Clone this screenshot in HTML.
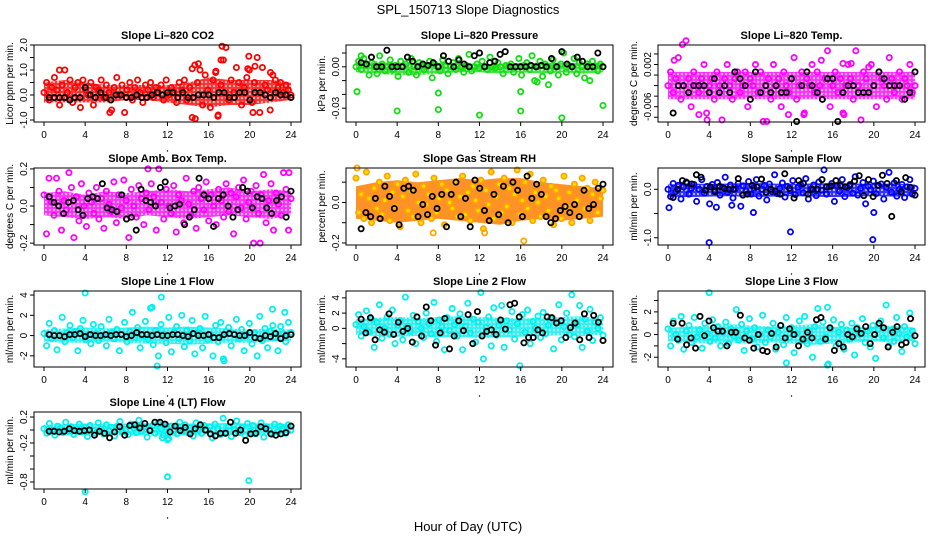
<!DOCTYPE html>
<html><head><meta charset="utf-8">
<style>
html,body{margin:0;padding:0;background:#fff;}
svg{display:block;font-family:"Liberation Sans",sans-serif;}
</style></head>
<body>
<svg id="chart" width="936" height="540" viewBox="0 0 936 540" xmlns="http://www.w3.org/2000/svg">
<defs>
<pattern id="speck" width="4" height="4" patternUnits="userSpaceOnUse"><rect width="4" height="4" fill="#fff" fill-opacity="0"/><circle cx="2" cy="2" r="1.1" fill="#fff"/></pattern>
</defs>
<rect width="936" height="540" fill="#fff"/>
<text x="468" y="14" font-size="13" text-anchor="middle">SPL_150713  Slope Diagnostics</text>
<text x="468" y="531" font-size="13" text-anchor="middle">Hour of Day (UTC)</text>
</svg>
<script>
const xTicks=[0,4,8,12,16,20,24];
const bandHours=[0,2,4,6,8,10,12,14,16,18,20,22,24];
// Panel 1 CO2
const co2Main=[0.1,0.5,-0.2,0.3,0.7,0.2,-0.4,0.4,1.0,0.1,0.6,-0.3,0.3,0.5,-0.5,0.6,0.2,0.0,0.5,-0.4,0.3,0.2,0.6,-0.1,0.4,0.1,-0.6,0.3,0.7,0.0,0.4,-0.7,0.2,0.5,-0.2,0.3,0.6,0.1,-0.3,0.4,0.2,0.5,-0.1,0.3,0.1,0.4,-0.2,0.6,0.0,0.3,0.1,-0.3,0.5,0.2,0.6,-0.2,0.3,-0.9,1.2,0.5,1.0,-0.4,0.8,0.2,-0.5,0.6,0.9,-0.8,0.4,1.4,1.9,-0.2,0.6,0.1,1.1,0.5,-0.4,0.3,0.7,1.0,-0.3,0.5,1.5,-0.7,1.1,0.4,0.2,-0.6,0.8,0.6,0.3,0.5,0.1,0.4,0.2,0.0];
const co2OutHours=[14.7,15.0,17.2,17.3,16.9,19.9,20.5,20.3,6.4,1.5,16.7,19.8,22.0,14.4];
const co2OutVals=[-0.95,1.25,1.4,1.95,-0.85,1.55,1.15,-0.7,-0.7,1.0,0.95,1.05,0.9,1.05];
const co2BandLow=[-0.3,-0.3,-0.3,-0.3,-0.2,-0.2,-0.3,-0.4,-0.5,-0.4,-0.4,-0.3,-0.2];
const co2BandHigh=[0.5,0.6,0.5,0.4,0.4,0.4,0.4,0.5,0.7,0.6,0.6,0.6,0.5];
const co2Black=[-0.1,-0.1,-0.1,-0.1,-0.2,-0.1,-0.1,0.3,0.0,-0.1,0.1,-0.1,-0.2,0.0,0.0,-0.1,-0.1,0.0,-0.1,-0.1,0.0,0.1,0.0,0.1,0.1,-0.1,0.1,-0.1,-0.1,0.0,0.0,0.0,-0.1,0.1,0.1,-0.1,-0.1,0.1,0.1,-0.2,0.1,0.1,0.0,-0.1,0.1,0.0,0.0,-0.1];
// Panel 2 Pressure
const presMain=[0.000,0.004,-0.002,0.006,0.001,-0.006,0.003,0.000,-0.005,0.008,0.002,-0.003,0.000,0.005,-0.002,0.001,-0.007,0.004,0.000,0.002,-0.004,0.006,0.000,-0.006,0.003,0.001,-0.002,0.000,0.004,-0.008,0.002,0.000,-0.003,0.005,0.001,-0.005,0.000,0.003,-0.002,0.006,0.000,-0.004,0.001,0.009,-0.003,0.000,0.002,-0.001,0.004,0.000,-0.002,0.007,0.000,-0.001,0.003,0.000,-0.005,0.001,0.000,0.002,-0.004,0.000,0.006,-0.006,0.001,0.003,-0.002,0.008,-0.010,0.000,0.004,-0.007,0.002,0.000,-0.003,0.005,0.000,-0.006,0.002,0.010,-0.004,0.001,0.000,0.006,-0.005,0.003,0.000,-0.008,0.002,-0.010,0.004,0.000,-0.003,0.002,0.000];
const presOutHours=[0.1,4.0,8.0,8.0,12.0,16.0,16.0,20.0,24.0,18.7,17.6,0.5];
const presOutVals=[-0.018,-0.032,-0.031,-0.019,-0.035,-0.032,-0.018,-0.037,-0.028,-0.013,-0.011,0.008];
const presBandLow=[-0.004,-0.005,-0.006,-0.006,-0.005,-0.004,-0.004,-0.005,-0.004,-0.005,-0.004,-0.005,-0.004];
const presBandHigh=[0.003,0.004,0.003,0.003,0.003,0.003,0.002,0.002,0.003,0.003,0.003,0.003,0.003];
const presBlack=[0.003,0.002,0.007,0.000,0.000,0.012,0.000,0.000,0.000,0.007,0.004,0.000,0.002,0.001,0.003,0.000,0.008,0.004,0.000,0.005,0.002,0.000,0.008,0.010,0.000,0.003,0.004,0.009,0.011,0.000,0.000,0.000,0.000,0.001,0.000,0.001,0.000,0.006,0.000,0.011,0.002,0.000,0.007,0.004,0.000,0.000,0.010,0.000];
// Panel 3 Li-820 Temp
const tempMain=[-0.002,0.0006,-0.0033,-0.0007,0.0033,-0.0046,-0.002,0.0065,-0.0007,-0.006,0.0006,-0.002,-0.0033,-0.0007,0.002,-0.0072,-0.002,-0.0007,-0.0046,0.0006,-0.002,-0.0085,-0.0007,0.002,-0.002,-0.0046,-0.0007,0.0006,-0.0033,-0.002,0.0006,-0.006,-0.0007,-0.002,0.002,-0.0033,0.0006,-0.0088,-0.002,-0.0007,-0.0046,0.002,-0.002,-0.0007,-0.006,0.0006,-0.002,-0.0033,-0.0007,0.0033,-0.0046,-0.002,0.0006,-0.0072,-0.0007,-0.002,0.002,-0.0033,0.0006,-0.002,-0.0046,-0.0007,0.0046,-0.006,-0.002,0.0006,-0.0033,-0.0007,-0.0072,-0.002,0.002,-0.0007,-0.0046,0.0046,-0.002,-0.0085,0.0006,-0.0007,-0.0033,0.002,-0.002,-0.006,0.0006,-0.0007,-0.002,-0.0046,0.0033,-0.0007,-0.0033,-0.002,0.0006,-0.0046,-0.0007,-0.002,0.002,-0.0033,-0.002];
const tempOutHours=[1.4,0.6,3.0,3.8,9.6,13.2,14.9,17.8,17.0,17.1,19.5,11.7];
const tempOutVals=[0.0058,0.0028,-0.0075,-0.0085,-0.0088,-0.0075,0.0028,0.0022,0.0022,-0.0075,0.0015,-0.0075];
const tempBandLow=[-0.0046,-0.0046,-0.0046,-0.0046,-0.0046,-0.0046,-0.0046,-0.0046,-0.0046,-0.0046,-0.0046,-0.0046,-0.0046];
const tempBandHigh=[0.0006,0.0006,0.0006,0.0006,0.0006,0.0006,0.0006,0.0006,0.0006,0.0006,0.0006,0.0006,0.0006];
const tempBlack=[-0.0072,-0.002,-0.002,-0.0033,-0.002,-0.002,-0.002,-0.0033,-0.0007,-0.0033,-0.002,-0.0033,0.0006,-0.0007,-0.002,-0.0046,0.0006,-0.0033,-0.002,-0.0033,-0.002,-0.0033,-0.0033,-0.0007,-0.0088,-0.002,0.0006,-0.002,-0.0033,-0.0046,-0.0007,-0.0007,-0.0088,-0.0033,-0.002,-0.002,-0.0033,-0.0033,-0.0033,-0.002,0.0006,-0.0007,-0.002,-0.002,-0.002,-0.0046,-0.0033,0.0006];
// Panel 4 Amb Box Temp
const ambMain=[0.06,-0.15,0.15,0.02,-0.05,0.15,0.08,-0.13,0.03,-0.02,0.18,0.10,-0.17,0.05,-0.08,0.12,0.00,-0.11,0.07,0.02,-0.04,0.10,-0.07,0.04,-0.12,0.08,0.01,-0.03,0.13,-0.09,0.06,-0.01,0.14,0.03,-0.17,0.09,0.00,-0.06,0.11,0.04,-0.10,0.07,-0.02,0.12,0.05,-0.13,0.20,0.02,-0.07,0.09,0.00,-0.04,0.11,-0.14,0.06,0.03,-0.09,0.15,0.01,-0.05,0.08,-0.12,0.10,0.04,-0.02,0.13,-0.08,0.06,0.00,-0.10,0.09,0.03,-0.06,0.12,-0.03,0.07,-0.15,0.05,0.10,-0.01,0.14,-0.07,0.02,0.08,-0.20,0.11,-0.04,0.06,0.17,-0.09,0.03,0.12,-0.13,0.07,0.01,-0.05,0.18,0.09,-0.13,0.04];
const ambOutHours=[10.1,21.0,23.8];
const ambOutVals=[0.2,-0.2,0.18];
const ambBandLow=[-0.05,-0.06,-0.07,-0.06,-0.07,-0.05,-0.06,-0.07,-0.06,-0.05,-0.06,-0.07,-0.05];
const ambBandHigh=[0.07,0.08,0.06,0.08,0.07,0.08,0.09,0.08,0.09,0.10,0.08,0.09,0.08];
const ambBlack=[0.05,0.02,0.00,-0.04,0.02,0.03,-0.02,-0.05,0.04,0.05,0.04,0.12,-0.01,-0.02,-0.03,0.06,-0.07,-0.06,-0.13,0.09,0.03,0.02,0.00,0.10,0.13,-0.01,0.00,0.01,-0.10,-0.06,-0.02,0.15,0.06,0.04,-0.11,0.04,0.06,0.00,-0.06,-0.02,0.10,0.08,-0.01,0.05,0.04,-0.01,-0.04,0.03,0.05,-0.06,0.08];
// Panel 5 RH
const rhMain=[0.12,-0.05,0.04,-0.08,0.15,0.02,-0.10,0.07,-0.03,0.10,-0.06,0.01,0.13,-0.09,0.05,-0.02,0.09,-0.12,0.03,0.11,-0.04,0.06,-0.07,0.14,0.00,-0.10,0.08,-0.01,0.04,-0.08,0.12,-0.05,0.02,0.09,-0.11,0.06,0.00,-0.03,0.10,-0.07,0.03,0.13,-0.06,0.05,-0.09,0.08,0.01,-0.04,0.11,-0.13,0.06,-0.01,0.15,-0.08,0.03,0.09,-0.05,0.12,-0.02,0.07,-0.10,0.04,0.16,-0.06,0.01,0.10,-0.03,0.14,-0.09,0.05,0.00,-0.07,0.11,0.03,-0.04,0.08,-0.11,0.06,0.02,-0.08,0.13,-0.02,0.05,-0.10,0.09,0.01,-0.06,0.12,-0.03,0.07,-0.09,0.04,0.10,-0.05,0.02,0.06];
const rhOutHours=[7.5,12.5,16.3,0.1];
const rhOutVals=[-0.15,-0.15,-0.19,0.17];
const rhBandLow=[-0.08,-0.09,-0.10,-0.09,-0.08,-0.09,-0.10,-0.11,-0.09,-0.08,-0.09,-0.08,-0.07];
const rhBandHigh=[0.08,0.10,0.11,0.10,0.11,0.12,0.11,0.12,0.12,0.10,0.09,0.08,0.07];
const rhBlack=[-0.13,-0.05,-0.07,0.02,-0.08,0.08,0.03,-0.03,-0.11,0.07,0.08,0.06,-0.07,-0.01,-0.06,0.03,-0.03,0.04,-0.12,0.04,0.10,-0.07,0.02,-0.12,0.11,0.07,-0.04,-0.09,0.04,-0.06,0.08,-0.10,0.10,0.06,-0.07,0.13,0.02,0.09,0.04,-0.07,-0.10,-0.08,-0.04,-0.02,-0.05,-0.01,-0.07,0.06,-0.03,-0.01,0.07,0.09];
// Panel 6 Sample Flow
const sfMain=[0.0,-0.15,0.12,-0.05,0.08,-0.2,0.05,0.15,-0.1,0.02,0.1,-0.25,0.0,0.2,-0.08,0.06,-0.3,0.1,-0.02,0.14,-0.12,0.04,0.25,-0.06,0.09,-0.18,0.01,0.12,-0.35,0.07,-0.04,0.16,-0.1,0.03,0.2,-0.14,0.0,0.08,-0.22,0.11,-0.05,0.3,-0.09,0.02,0.13,-0.16,0.06,-0.03,0.18,-0.11,0.04,0.1,-0.07,0.22,-0.2,0.01,0.09,-0.13,0.15,-0.02,0.4,-0.1,0.05,0.12,-0.25,0.07,-0.04,0.2,-0.15,0.03,0.1,-0.08,0.26,-0.12,0.02,0.14,-0.3,0.06,-0.01,0.17,-0.09,0.08,0.11,-0.2,0.04,0.35,-0.06,0.13,-0.14,0.0,0.1,-0.17,0.05,0.2,-0.1,0.02];
const sfOutHours=[0.1,4.0,4.7,8.3,11.9,19.9,20.0,6.2];
const sfOutVals=[-0.38,-1.1,-0.37,-0.48,-0.88,-1.04,-0.48,-0.33];
const sfBandLow=[-0.15,-0.16,-0.15,-0.14,-0.16,-0.15,-0.14,-0.15,-0.16,-0.15,-0.14,-0.15,-0.14];
const sfBandHigh=[0.1,0.12,0.11,0.12,0.13,0.12,0.11,0.12,0.13,0.12,0.11,0.12,0.1];
const sfBlack=[-0.17,0.0,0.18,0.13,0.11,0.3,0.25,-0.02,0.05,-0.05,0.06,0.02,0.0,0.0,0.22,-0.12,-0.1,0.08,0.05,0.21,-0.06,0.0,-0.04,-0.1,0.32,0.02,-0.18,0.18,0.12,-0.1,0.0,0.0,0.2,0.05,0.07,0.18,0.08,0.05,0.08,0.17,0.28,-0.13,0.2,-0.15,0.08,0.29,0.12,-0.56,0.18,-0.05,0.24,0.04,-0.12];
// Panel 7 Line 1
const l1Main=[0.2,-1.0,1.2,-0.3,0.5,-1.4,0.0,1.8,-0.6,0.3,1.0,-0.2,0.4,-1.5,0.7,1.5,-0.4,0.1,-0.8,1.1,0.2,-0.5,0.9,0.0,-1.0,1.6,0.3,-0.3,0.6,-1.5,0.1,1.3,-0.6,0.4,2.3,-0.2,0.8,-1.2,0.0,1.4,-0.4,2.7,-0.9,0.5,-2.0,1.1,0.2,-0.7,1.8,-1.6,0.3,0.9,-0.3,2.0,-1.1,0.5,-0.5,1.5,-1.8,0.2,0.7,-1.2,1.9,-0.4,0.1,-2.0,1.0,-0.6,1.3,-2.3,0.4,0.8,-1.0,0.2,1.6,-0.3,0.6,-1.5,0.0,1.2,-0.8,0.3,-2.0,1.9,-0.5,0.7,-1.2,0.4,1.0,-0.2,-1.5,0.9,0.2,-0.6,1.3,0.3];
const l1OutHours=[4.0,11.4,11.0,22.2,23.4,10.5,17.5];
const l1OutVals=[4.2,3.8,-3.0,2.6,2.3,2.8,-2.5];
const l1BandLow=[-0.6,-0.7,-0.7,-0.6,-0.7,-0.8,-0.8,-0.9,-0.8,-0.7,-0.7,-0.6,-0.5];
const l1BandHigh=[0.6,0.7,0.8,0.7,0.8,0.9,0.8,0.9,0.8,0.7,0.6,0.7,0.6];
const l1Black=[0.1,0.0,0.0,-0.1,0.1,0.1,0.2,-0.1,0.1,0.0,0.0,0.1,0.0,0.1,0.1,-0.1,0.0,0.3,0.1,0.1,0.0,0.1,0.0,0.0,0.1,0.1,0.0,-0.1,0.2,0.0,0.0,0.1,-0.2,-0.2,0.1,0.2,0.1,0.0,0.0,0.3,-0.2,-0.3,0.0,-0.1,0.2,-0.3,0.0,0.1];
// Panel 8 Line 2
const l2Main=[0.5,1.8,-1.0,0.2,2.3,-0.5,1.2,-2.5,0.8,3.1,-1.3,0.0,1.5,-0.8,2.4,-2.0,0.4,1.0,-1.5,4.1,0.3,-0.4,1.7,-2.0,0.9,0.0,-1.2,2.0,0.6,-0.7,3.4,-1.7,1.1,0.2,-2.8,1.4,-0.3,2.6,0.5,-1.0,1.9,-2.8,0.3,3.3,-0.6,1.2,-1.8,0.8,4.7,-4.0,0.1,1.5,-2.3,2.7,-0.9,0.4,3.0,-2.5,1.0,-0.2,2.2,-1.4,0.6,-4.9,1.8,-0.5,2.4,-2.0,0.9,0.0,1.6,-1.2,2.1,-0.7,0.4,1.3,-2.7,0.7,3.1,-1.5,0.2,2.0,-0.8,4.4,-1.1,0.5,3.0,-2.5,1.2,-0.4,2.5,-1.6,0.8,0.0,1.4,-0.9];
const l2OutHours=[];
const l2OutVals=[];
const l2BandLow=[-0.8,-1.0,-1.1,-1.0,-1.2,-1.1,-1.3,-1.2,-1.1,-1.0,-0.9,-1.0,-0.8];
const l2BandHigh=[1.2,1.4,1.5,1.3,1.5,1.6,1.5,1.4,1.3,1.4,1.5,1.6,1.2];
const l2Black=[1.2,-0.6,1.4,-1.5,-0.2,-0.5,1.9,-0.8,0.8,-0.4,0.0,-1.8,1.5,-1.0,2.8,1.0,-2.2,-0.6,1.3,-2.7,-1.0,1.0,-0.3,1.8,-2.0,2.2,-1.0,-0.4,-0.2,-0.8,1.1,-0.1,3.1,3.3,1.5,-1.9,-1.2,-1.2,-0.2,-0.6,1.5,1.4,0.7,1.0,-1.2,0.1,0.7,-1.5,1.9,-1.2,1.7,0.8,-1.6];
// Panel 9 Line 3
const l3Main=[0.5,-1.0,1.2,0.0,-0.5,1.6,-1.3,0.3,0.8,-0.7,1.5,-0.2,0.4,-1.2,1.0,0.1,-0.6,1.3,-0.3,0.7,-1.0,0.2,1.1,-0.8,0.5,-0.1,2.2,-0.5,0.9,-1.4,0.3,1.4,-0.4,0.6,-1.1,0.0,1.7,-0.7,0.4,-0.2,1.0,-1.3,0.2,0.8,-0.9,1.5,-0.3,0.6,-1.6,0.1,1.2,-0.5,1.6,-0.8,0.3,-2.0,0.7,2.3,-0.6,1.1,-0.2,-2.6,0.5,1.3,-1.0,0.2,0.9,-1.3,0.4,-0.4,1.0,-1.8,0.6,0.0,1.4,-0.7,0.3,-1.1,0.8,-2.1,0.5,1.2,-0.3,2.6,-1.0,0.4,-0.6,1.5,0.1,-1.5,0.7,-0.2,1.9,0.3,-0.8];
const l3OutHours=[4.0,11.5,15.5,15.5];
const l3OutVals=[3.7,-2.5,2.4,-2.7];
const l3BandLow=[-0.6,-0.7,-0.8,-0.7,-0.8,-0.7,-0.8,-0.9,-0.8,-0.7,-0.6,-0.7,-0.6];
const l3BandHigh=[0.6,0.7,0.8,0.9,0.8,0.7,0.8,0.9,0.7,0.6,0.7,0.8,0.6];
const l3Black=[1.0,-0.4,1.0,-0.9,-0.3,-1.2,1.6,-0.1,1.2,0.6,0.3,0.3,-1.0,0.2,0.2,1.7,-0.3,-0.5,-1.2,0.0,-1.4,-1.5,0.1,-1.1,0.8,-0.3,0.5,0.0,-1.0,-0.4,0.2,-0.3,1.3,1.5,-0.4,0.6,-1.4,-0.8,-1.1,0.0,-0.2,0.5,0.1,0.7,-0.8,0.0,1.0,0.6,-1.1,0.2,0.7,-0.9,-0.7,1.4,-0.1];
// Panel 10 Line 4
const l4Main=[0.02,-0.05,0.10,0.00,-0.08,0.06,0.03,-0.04,0.12,-0.02,0.05,-0.07,0.01,0.09,-0.03,0.04,-0.10,0.07,0.00,-0.05,0.11,0.02,-0.06,0.08,-0.01,0.04,-0.09,0.06,0.13,-0.03,0.01,-0.07,0.09,0.03,-0.04,0.15,-0.02,0.05,-0.11,0.00,0.07,-0.05,0.10,0.02,-0.08,0.04,-0.13,0.06,0.01,-0.06,0.12,-0.02,0.08,-0.04,0.03,-0.09,0.11,0.00,-0.05,0.07,-0.01,0.05,-0.12,0.09,0.02,-0.07,0.18,-0.03,0.06,-0.10,0.01,0.14,-0.04,0.04,-0.08,0.10,-0.02,0.07,-0.06,0.03,0.11,-0.11,0.05,0.00,-0.07,0.09,-0.03,0.06,0.02,-0.05,0.08,0.00];
const l4OutHours=[4.0,12.0,19.9,12.0,11.5];
const l4OutVals=[-0.95,-0.72,-0.78,-0.15,-0.12];
const l4BandLow=[-0.07,-0.08,-0.08,-0.07,-0.08,-0.08,-0.09,-0.08,-0.08,-0.07,-0.08,-0.08,-0.07];
const l4BandHigh=[0.08,0.09,0.10,0.09,0.10,0.10,0.11,0.10,0.10,0.11,0.10,0.10,0.09];
const l4Black=[-0.02,-0.02,-0.03,-0.02,0.02,-0.01,-0.02,-0.01,0.0,-0.08,-0.02,-0.05,-0.12,-0.03,0.05,-0.08,0.07,0.08,0.03,0.10,-0.01,0.12,0.12,0.09,-0.03,0.06,-0.01,0.04,-0.06,0.02,0.08,0.0,-0.06,-0.09,-0.05,-0.05,0.12,-0.05,0.0,-0.16,-0.06,-0.05,0.05,0.02,-0.06,-0.08,-0.06,-0.04,0.06];

const NS="http://www.w3.org/2000/svg";
const svg=document.getElementById('chart');
function mk(tag,attrs,parent){const e=document.createElementNS(NS,tag);for(const k in attrs)e.setAttribute(k,attrs[k]);(parent||svg).appendChild(e);return e;}
const rows=[[45,122],[168,245],[291,367],[412,489]];
const panels=[
 {slug:'co2',title:'Slope Li\u2013820 CO2',ylab:'Licor ppm per min.',col:0,row:0,ymin:-1.08,ymax:2.0,ticks:[-1,-0.5,0,0.5,1,1.5,2],labels:['-1.0','0.0','1.0','2.0'],lv:[-1,0,1,2],color:'#ff0000',main:co2Main,oh:co2OutHours,ov:co2OutVals,bl:co2BandLow,bh:co2BandHigh,black:co2Black},
 {slug:'pressure',title:'Slope Li\u2013820 Pressure',ylab:'kPa per min.',col:1,row:0,ymin:-0.040,ymax:0.0158,ticks:[-0.03,-0.02,-0.01,0,0.01],labels:['-0.03','0.00'],lv:[-0.03,0],color:'#11dd11',main:presMain,oh:presOutHours,ov:presOutVals,bl:presBandLow,bh:presBandHigh,black:presBlack},
 {slug:'li820-temp',title:'Slope Li\u2013820 Temp.',ylab:'degrees C per min.',col:2,row:0,ymin:-0.0089,ymax:0.0057,ticks:[-0.008,-0.006,-0.004,-0.002,0,0.002,0.004],labels:['-0.006','0.002'],lv:[-0.006,0.002],color:'#ff00ff',main:tempMain,oh:tempOutHours,ov:tempOutVals,bl:tempBandLow,bh:tempBandHigh,black:tempBlack},
 {slug:'amb-box-temp',title:'Slope Amb. Box Temp.',ylab:'degrees C per min.',col:0,row:1,ymin:-0.21,ymax:0.205,ticks:[-0.2,-0.1,0,0.1,0.2],labels:['-0.2','0.0','0.2'],lv:[-0.2,0,0.2],color:'#ff00ff',main:ambMain,oh:ambOutHours,ov:ambOutVals,bl:ambBandLow,bh:ambBandHigh,black:ambBlack},
 {slug:'gas-stream-rh',title:'Slope Gas Stream RH',ylab:'percent per min.',col:1,row:1,ymin:-0.21,ymax:0.17,ticks:[-0.2,-0.1,0,0.1],labels:['-0.2','0.0'],lv:[-0.2,0],color:'#ffa500',main:rhMain,oh:rhOutHours,ov:rhOutVals,bl:rhBandLow,bh:rhBandHigh,black:rhBlack,rh:true},
 {slug:'sample-flow',title:'Slope Sample Flow',ylab:'ml/min per min.',col:2,row:1,ymin:-1.15,ymax:0.44,ticks:[-1,-0.5,0],labels:['-1.0','0.0'],lv:[-1,0],color:'#0000ff',main:sfMain,oh:sfOutHours,ov:sfOutVals,bl:sfBandLow,bh:sfBandHigh,black:sfBlack},
 {slug:'line1-flow',title:'Slope Line 1 Flow',ylab:'ml/min per min.',col:0,row:2,ymin:-3.1,ymax:4.4,ticks:[-2,0,2,4],labels:['-2','0','2','4'],lv:[-2,0,2,4],color:'#00f0f0',main:l1Main,oh:l1OutHours,ov:l1OutVals,bl:l1BandLow,bh:l1BandHigh,black:l1Black},
 {slug:'line2-flow',title:'Slope Line 2 Flow',ylab:'ml/min per min.',col:1,row:2,ymin:-5.07,ymax:4.9,ticks:[-4,-2,0,2,4],labels:['-4','0','2','4'],lv:[-4,0,2,4],color:'#00f0f0',main:l2Main,oh:l2OutHours,ov:l2OutVals,bl:l2BandLow,bh:l2BandHigh,black:l2Black},
 {slug:'line3-flow',title:'Slope Line 3 Flow',ylab:'ml/min per min.',col:2,row:2,ymin:-2.86,ymax:3.84,ticks:[-2,-1,0,1,2,3],labels:['-2','0','2'],lv:[-2,0,2],color:'#00f0f0',main:l3Main,oh:l3OutHours,ov:l3OutVals,bl:l3BandLow,bh:l3BandHigh,black:l3Black},
 {slug:'line4-flow',title:'Slope Line 4 (LT) Flow',ylab:'ml/min per min.',col:0,row:3,ymin:-0.908,ymax:0.277,ticks:[-0.8,-0.6,-0.4,-0.2,0,0.2],labels:['-0.8','-0.2','0.2'],lv:[-0.8,-0.2,0.2],color:'#00f0f0',main:l4Main,oh:l4OutHours,ov:l4OutVals,bl:l4BandLow,bh:l4BandHigh,black:l4Black}
];
panels.forEach(p=>{
  const cx=p.col*312, top=rows[p.row][0], bot=rows[p.row][1];
  const L=cx+34, R=cx+301;
  const xs=h=>cx+44+h*(247/24);
  const ys=v=>bot-(v-p.ymin)/(p.ymax-p.ymin)*(bot-top);
  const g=mk('g',{});
  
  
  const t=mk('text',{x:(L+R)/2,y:top-6,'font-size':11,'font-weight':'bold','text-anchor':'middle'},g);
  
  
  t.textContent=p.title;
  const yl=mk('text',{x:0,y:0,'font-size':10,'text-anchor':'middle',transform:`translate(${cx+13},${(top+bot)/2}) rotate(-90)`},g);
  
  
  yl.textContent=p.ylab;
  // dense core band (speckled, like overlapping hollow circles)
  let d='';
  bandHours.forEach((h,i)=>{d+=(i?'L':'M')+xs(h).toFixed(1)+','+ys(p.bh[i]).toFixed(1);});
  for(let i=bandHours.length-1;i>=0;i--){d+='L'+xs(bandHours[i]).toFixed(1)+','+ys(p.bl[i]).toFixed(1);}
  const band=mk('path',{d:d+'Z',fill:p.color,'fill-opacity':0.8,stroke:'none'},g);
  
  
  const speck=mk('path',{d:d+'Z',fill:p.rh?'#ff2200':'url(#speck)',stroke:'none','fill-opacity':p.rh?0.25:0.7},g);
  
  
  const pts=mk('g',{fill:'none'},g);
  
  
  const n=p.main.length;
  p.main.forEach((v,i)=>{
    const h=i*24/(n-1);
    const c=mk('circle',{cx:xs(h),cy:ys(v),r:2.6,stroke:p.color,'stroke-width':1.8},pts);
    
    
    if(p.rh){c.setAttribute('fill','#ffdd00');}
  });
  p.oh.forEach((h,i)=>{
    const c=mk('circle',{cx:xs(h),cy:ys(p.ov[i]),r:2.6,stroke:p.color,'stroke-width':1.8},pts);
    
    
  });
  const nb=p.black.length;
  p.black.forEach((v,i)=>{
    const h=0.5+i*23.5/(nb-1);
    const c=mk('circle',{cx:xs(h),cy:ys(v),r:2.6,stroke:'#000','stroke-width':1.8},pts);
    
    
  });
  const box=mk('rect',{x:L,y:top,width:R-L,height:bot-top,fill:'none',stroke:'#000','stroke-width':1},g);
  
  
  xTicks.forEach(h=>{
    mk('line',{x1:xs(h),x2:xs(h),y1:bot,y2:bot+4,stroke:'#000'},g);
    const tl=mk('text',{x:xs(h),y:bot+16,'font-size':10,'text-anchor':'middle'},g);
    
    
    tl.textContent=h;
  });
  mk('circle',{cx:xs(12),cy:bot+29,r:0.7,fill:'#000'},g);
  p.ticks.forEach(v=>{mk('line',{x1:L-4,x2:L,y1:ys(v),y2:ys(v),stroke:'#000'},g);});
  p.lv.forEach((v,i)=>{
    const tl=mk('text',{x:0,y:0,'font-size':10,'text-anchor':'middle',transform:`translate(${cx+27},${ys(v)}) rotate(-90)`},g);
    
    
    tl.textContent=p.labels[i];
  });
});
</script>
</body></html>
